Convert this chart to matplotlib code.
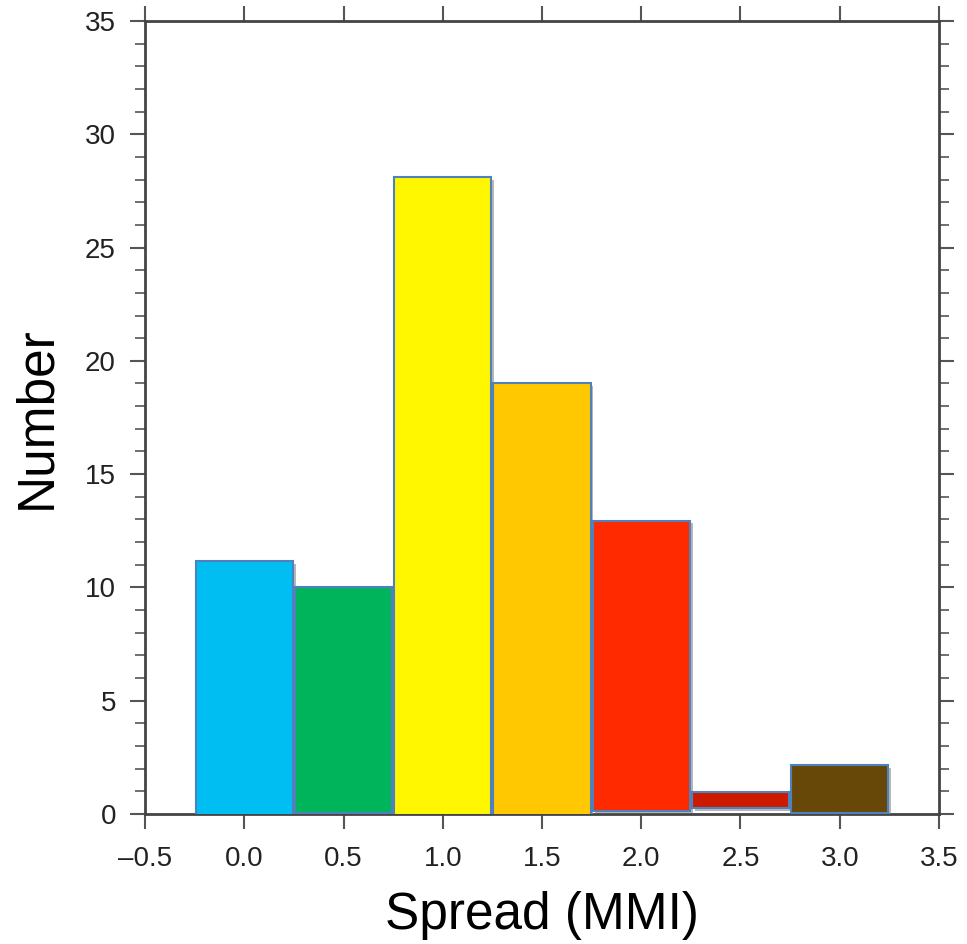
import matplotlib.pyplot as plt
import matplotlib.patheffects as pe
from matplotlib.ticker import MultipleLocator

# Datos
spread = [0.0, 0.5, 1.0, 1.5, 2.0, 2.5, 3.0]
number = [11.15, 10.0, 28.1, 19.0, 12.95, 0.95, 2.15]
bottoms = [-0.1, 0.05, -0.1, -0.1, 0.15, 0.25, 0.05]
colors = ['#00BEF2', '#00B45C', '#FFF700', '#FFC800', '#FF2A00', '#CC1A00', '#684808']

plt.rcParams['font.family'] = ['Liberation Sans', 'DejaVu Sans']

fig = plt.figure(figsize=(9.67, 9.44), dpi=100)
ax = fig.add_axes([0.150, 0.1377, 0.821, 0.8401])

heights = [n - b for n, b in zip(number, bottoms)]
bars = ax.bar(spread, heights, bottom=bottoms, width=0.49, color=colors,
              edgecolor='#4F81BD', linewidth=1.5, zorder=3)
for b in bars:
    b.set_path_effects([pe.SimplePatchShadow(offset=(2, -2), shadow_rgbFace='#888888', alpha=0.6),
                        pe.Normal()])

ax.set_xlim(-0.5, 3.5)
ax.set_ylim(0, 35)
ax.xaxis.set_major_locator(MultipleLocator(0.5))
ax.yaxis.set_major_locator(MultipleLocator(5))
ax.yaxis.set_minor_locator(MultipleLocator(1))
ax.xaxis.set_major_formatter(plt.FuncFormatter(lambda v, p: f'{v:.1f}'.replace('-', '\u2013')))

for s in ax.spines.values():
    s.set_color('#444444')
    s.set_linewidth(2)

ax.tick_params(axis='both', which='major', direction='out', length=11, width=1.5,
               color='#555555', labelsize=20, labelcolor='#222222')
ax.tick_params(axis='y', which='minor', direction='out', length=7, width=1.2, color='#555555')
ax.tick_params(axis='x', top=True, pad=12)
ax.tick_params(axis='y', right=True, which='both', pad=10)

ax.set_xlabel('Spread (MMI)', fontsize=37, labelpad=14)
ax.set_ylabel('Number', fontsize=37, labelpad=17)

fig.savefig('out.png', dpi=100)
